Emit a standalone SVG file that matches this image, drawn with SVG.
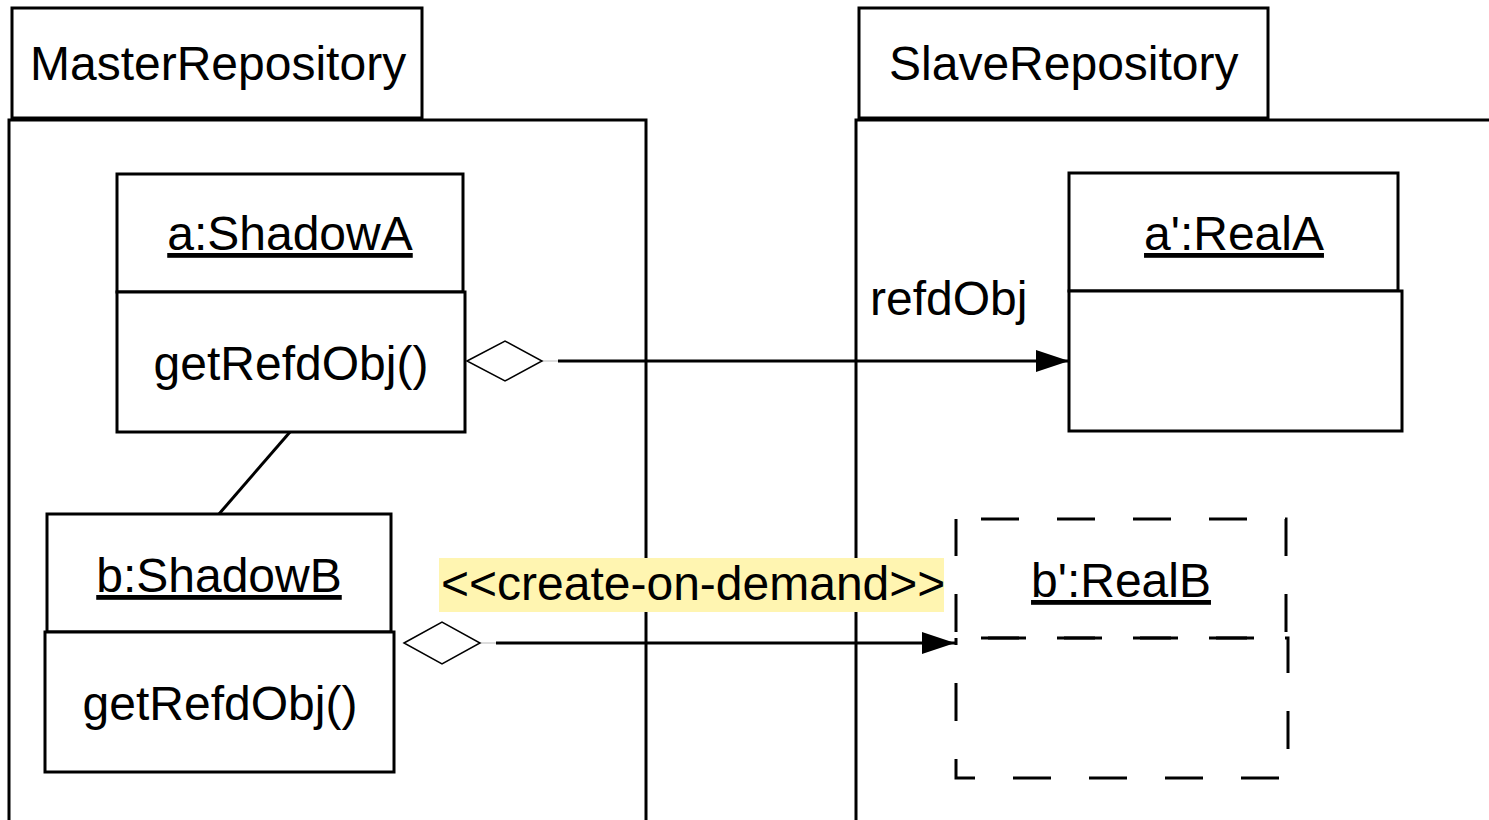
<svg xmlns="http://www.w3.org/2000/svg" width="1489" height="820" viewBox="0 0 1489 820">
  <style>
    .box { fill: #ffffff; stroke: #000000; stroke-width: 3; }
    .frame { fill: none; stroke: #000000; stroke-width: 3; }
    .dash { fill: none; stroke: #000000; stroke-width: 3; stroke-dasharray: 38 38; stroke-dashoffset: 51; }
    .t { font-family: "Liberation Sans", Arial, sans-serif; font-size: 48px; fill: #000000; }
    .c { text-anchor: middle; }
    .u { text-decoration: underline; }
    .edge { stroke: #000000; stroke-width: 3; fill: none; }
    .stub { stroke: #dddddd; stroke-width: 2; }
    .diamond { fill: #ffffff; stroke: #000000; stroke-width: 1.5; }
  </style>
  <defs>
    <marker id="arrow" markerUnits="userSpaceOnUse" markerWidth="34" markerHeight="24" refX="33" refY="12" orient="auto">
      <path d="M0,1 L33,12 L0,23 Z" fill="#000000"/>
    </marker>
  </defs>
  <rect width="1489" height="820" fill="#ffffff"/>

  <!-- packages -->
  <g id="master-repository">
    <rect class="frame" x="9" y="120" width="637" height="720"/>
    <rect class="box" x="12" y="8" width="410" height="110"/>
    <text class="t" x="30" y="80">MasterRepository</text>
  </g>
  <g id="slave-repository">
    <rect class="frame" x="856" y="120" width="700" height="720"/>
    <rect class="box" x="859" y="8" width="409" height="110"/>
    <text class="t" x="889" y="80">SlaveRepository</text>
  </g>

  <!-- connectors -->
  <g id="connectors">
    <line class="edge" x1="290" y1="432" x2="219" y2="514"/>
    <line class="stub" x1="542" y1="361" x2="558" y2="361"/>
    <line class="edge" x1="558" y1="361" x2="1069" y2="361" marker-end="url(#arrow)"/>
    <polygon class="diamond" points="467,361 505,341 542,361 505,381"/>
    <text class="t" x="870" y="315">refdObj</text>
    <line class="stub" x1="480" y1="643" x2="496" y2="643"/>
    <line class="edge" x1="496" y1="643" x2="955" y2="643" marker-end="url(#arrow)"/>
    <polygon class="diamond" points="404,643 442,622 480,643 442,664"/>
    <rect x="439" y="558" width="505" height="54" fill="#fff5b1"/>
    <text class="t" x="441" y="600">&lt;&lt;create-on-demand&gt;&gt;</text>
  </g>

  <!-- objects -->
  <g id="a-shadowA">
    <rect class="box" x="117" y="174" width="346" height="118"/>
    <rect class="box" x="117" y="292" width="348" height="140"/>
    <text class="t c u" x="290" y="250">a:ShadowA</text>
    <text class="t c" x="291" y="380">getRefdObj()</text>
  </g>
  <g id="b-shadowB">
    <rect class="box" x="47" y="514" width="344" height="118"/>
    <rect class="box" x="45" y="632" width="349" height="140"/>
    <text class="t c u" x="219" y="592">b:ShadowB</text>
    <text class="t c" x="220" y="720">getRefdObj()</text>
  </g>
  <g id="a-prime-realA">
    <rect class="box" x="1069" y="173" width="329" height="118"/>
    <rect class="box" x="1069" y="291" width="333" height="140"/>
    <text class="t c u" x="1234" y="250">a':RealA</text>
  </g>
  <g id="b-prime-realB">
    <rect class="dash" x="956" y="519" width="330" height="119"/>
    <rect class="dash" x="956" y="638" width="332" height="140"/>
    <text class="t c u" x="1121" y="597">b':RealB</text>
  </g>
</svg>
